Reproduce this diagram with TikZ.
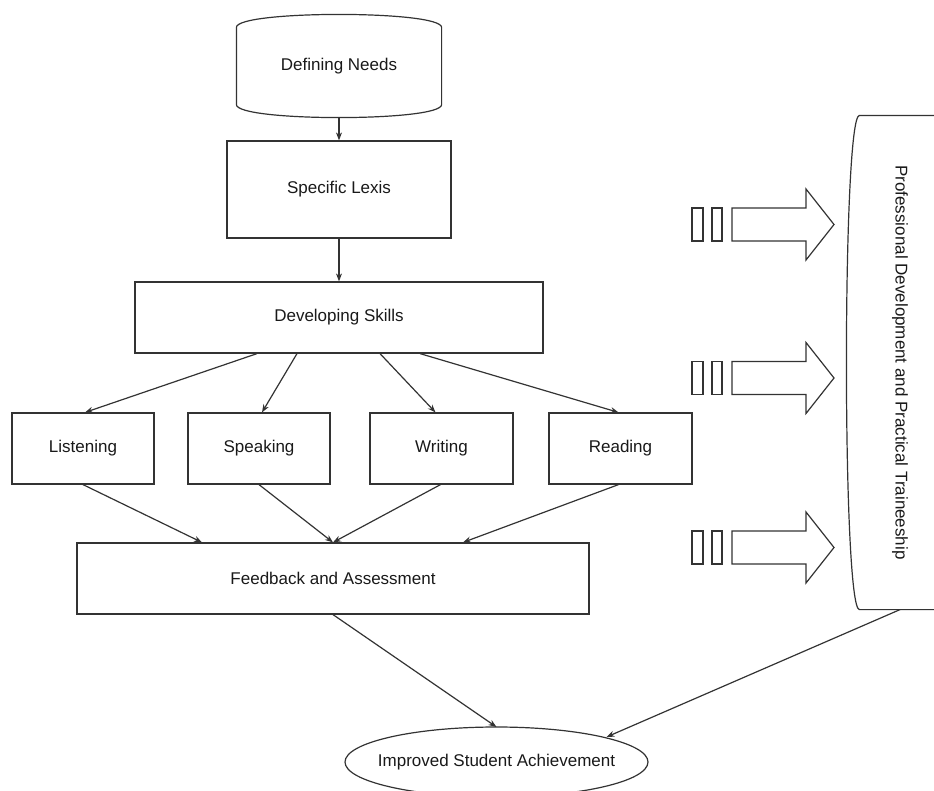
\documentclass[tikz,border=0pt]{standalone}
\usepackage{fontspec}
\setmainfont{Liberation Sans}
\usetikzlibrary{arrows.meta}
\begin{document}
\begin{tikzpicture}[>={Stealth[length=8pt,width=6pt]},x=1pt,y=-1pt,line width=1.2pt,draw=black!80,
	font=\fontsize{17}{20}\selectfont,text=black!90,
	box/.style={draw,inner sep=0pt,minimum height=71pt}]
	\useasboundingbox (0,0) rectangle (934,790);
	\clip (0,0) rectangle (934,790);
	% curved top box
	\node[inner sep=0pt,minimum width=204pt,minimum height=102pt] (need) at (339,66) {Defining Needs};
	\draw ([yshift=-13pt]need.north west) .. controls ([yshift=4.3pt]need.north west) and ([yshift=4.3pt]need.north east) .. ([yshift=-13pt]need.north east)
		-- ([yshift=13pt]need.south east) .. controls ([yshift=-4.3pt]need.south east) and ([yshift=-4.3pt]need.south west) .. ([yshift=13pt]need.south west) -- cycle;
	\node[box,minimum width=224pt,minimum height=97pt] (lex) at (339,189.5) {Specific Lexis};
	\node[box,minimum width=408pt] (dev) at (339,317.5) {Developing Skills};
	\node[box,minimum width=142pt] (lis) at (83,448.5) {Listening};
	\node[box,minimum width=142pt] (spk) at (259,448.5) {Speaking};
	\node[box,minimum width=143pt] (wri) at (441.5,448.5) {Writing};
	\node[box,minimum width=143pt] (rea) at (620.5,448.5) {Reading};
	\node[box,minimum width=512pt] (fb) at (333,578.5) {Feedback and Assessment};
	\node[inner sep=0pt] (ach) at (496.5,762) {Improved Student Achievement};
	\draw (ach.center) ellipse [x radius=151.5pt,y radius=35pt];
	% tall box on the right
	\node[inner sep=0pt,minimum width=106pt,minimum height=493pt] (prof) at (900,362.5) {\rotatebox{-90}{Professional Development and Practical Traineeship}};
	\draw ([xshift=13pt]prof.north west) .. controls ([xshift=-4.3pt]prof.north west) and ([xshift=-4.3pt]prof.south west) .. ([xshift=13pt]prof.south west)
		-- ([xshift=-13pt]prof.south east) .. controls ([xshift=4.3pt]prof.south east) and ([xshift=4.3pt]prof.north east) .. ([xshift=-13pt]prof.north east) -- cycle;
	% block arrows
	\foreach \y in {224.5,378,547.5}{
		\draw (692,\y-16.5) rectangle (703,\y+16.5) (712,\y-16.5) rectangle (722,\y+16.5);
		\draw (732,\y-16.5) -- (806,\y-16.5) -- (806,\y-35.5) -- (834,\y) -- (806,\y+35.5) -- (806,\y+16.5) -- (732,\y+16.5) -- cycle;
	}
	\draw[->] (need.south) -- (lex.north);
	\draw[->] (lex.south) -- (dev.north);
	\draw[->] ([xshift=-82pt]dev.south) -- ([xshift=2pt]lis.north);
	\draw[->] ([xshift=-42pt]dev.south) -- ([xshift=3pt]spk.north);
	\draw[->] ([xshift=41pt]dev.south) -- ([xshift=-6pt]wri.north);
	\draw[->] ([xshift=81pt]dev.south) -- ([xshift=-2pt]rea.north);
	\draw[->] (lis.south) -- ([xshift=-131pt]fb.north);
	\draw[->] (spk.south) -- (fb.north);
	\draw[->] ([xshift=-1pt]wri.south) -- (fb.north);
	\draw[->] ([xshift=-2pt]rea.south) -- ([xshift=130pt]fb.north);
	\draw[->] (fb.south) -- ([yshift=35pt]ach.center);
	\draw[->] (prof.south) -- ([xshift=110pt,yshift=25pt]ach.center); % to the ellipse's upper right
\end{tikzpicture}
\end{document}
